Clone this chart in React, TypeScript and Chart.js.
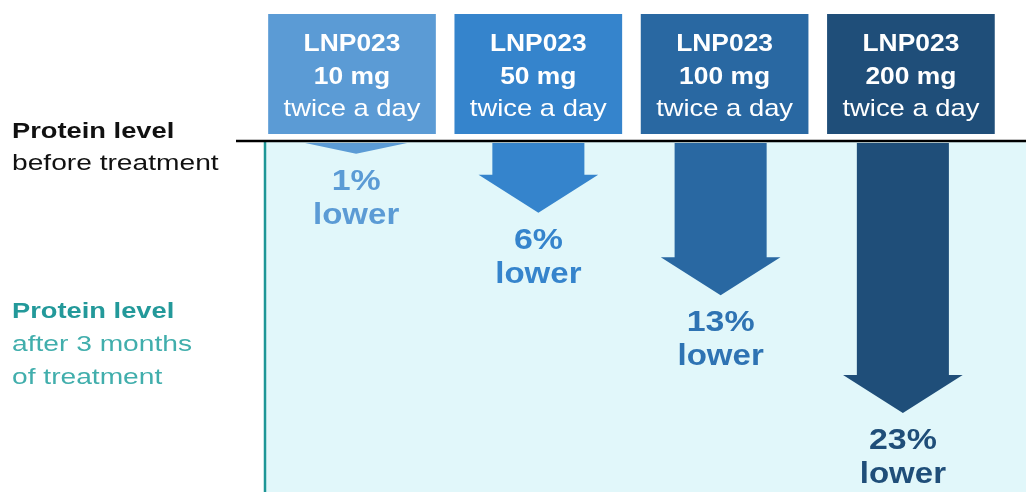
import React, { useEffect, useRef } from "react";
import { Chart, registerables } from "chart.js";

Chart.register(...registerables);

// ---- data ----
const drugName = "LNP023";
const doses = ["10 mg", "50 mg", "100 mg", "200 mg"];
const frequency = "twice a day";
const reductionPct = [1, 6, 13, 23];
const reductionWord = "lower";
const beforeLabel = ["Protein level", "before treatment"];
const afterLabel = ["Protein level", "after 3 months", "of treatment"];

// ---- styles ----
const boxColors = ["#5b9bd5", "#3584cc", "#2968a2", "#1f4e79"];
const pctTextColors = ["#5b9bd5", "#3584cc", "#2e73b3", "#1f4e79"];
const FONT = '"Liberation Sans", Arial, sans-serif';

function drawText(
  ctx: CanvasRenderingContext2D,
  text: string,
  x: number,
  y: number,
  font: string,
  color: string,
  align: CanvasTextAlign,
  sx: number
) {
  ctx.save();
  ctx.translate(x, y);
  ctx.scale(sx, 1);
  ctx.font = font;
  ctx.fillStyle = color;
  ctx.textAlign = align;
  ctx.textBaseline = "alphabetic";
  ctx.fillText(text, 0, 0);
  ctx.restore();
}

const infographicPlugin = {
  id: "infographic",
  beforeDatasetsDraw(chart: any) {
    const { ctx, chartArea, width } = chart;
    const xh = chart.scales.xh;
    ctx.save();
    // treatment region background
    ctx.fillStyle = "#e1f7fa";
    ctx.fillRect(chartArea.left, chartArea.top, width - chartArea.left, chartArea.bottom - chartArea.top);
    // teal left border
    ctx.strokeStyle = "#1e9696";
    ctx.lineWidth = 2.5;
    ctx.beginPath();
    ctx.moveTo(chartArea.left, chartArea.top);
    ctx.lineTo(chartArea.left, chartArea.bottom);
    ctx.stroke();

    // header boxes
    const boxW = Math.abs(xh.getPixelForValue(0.9) - xh.getPixelForValue(0));
    doses.forEach((d, i) => {
      const cx = xh.getPixelForValue(i);
      ctx.fillStyle = boxColors[i];
      ctx.fillRect(cx - boxW / 2, 14, boxW, 120);
      drawText(ctx, drugName, cx, 51, `bold 24px ${FONT}`, "#ffffff", "center", 1.1);
      drawText(ctx, d, cx, 84, `bold 24px ${FONT}`, "#ffffff", "center", 1.1);
      drawText(ctx, frequency, cx, 116, `24px ${FONT}`, "#ffffff", "center", 1.14);
    });

    // left labels
    drawText(ctx, beforeLabel[0], 12, 138, `bold 22px ${FONT}`, "#111111", "left", 1.24);
    drawText(ctx, beforeLabel[1], 12, 170, `22px ${FONT}`, "#111111", "left", 1.28);
    drawText(ctx, afterLabel[0], 12, 318, `bold 22px ${FONT}`, "#23999a", "left", 1.24);
    drawText(ctx, afterLabel[1], 12, 351, `22px ${FONT}`, "#41aeac", "left", 1.28);
    drawText(ctx, afterLabel[2], 12, 384, `22px ${FONT}`, "#41aeac", "left", 1.28);
    ctx.restore();
  },
  afterDatasetsDraw(chart: any) {
    const { ctx, chartArea, width } = chart;
    const meta = chart.getDatasetMeta(0);
    ctx.save();
    meta.data.forEach((el: any, i: number) => {
      const { x, y, base, width: w } = el.getProps(["x", "y", "base", "width"], true);
      const top = base + 1;
      const tip = y;
      const len = tip - top;
      const HEAD = 38;
      const hs = w / 2;
      ctx.fillStyle = boxColors[i];
      ctx.beginPath();
      if (len >= HEAD) {
        const hh = hs * 1.3;
        const hb = tip - HEAD;
        ctx.moveTo(x - hs, top);
        ctx.lineTo(x + hs, top);
        ctx.lineTo(x + hs, hb);
        ctx.lineTo(x + hh, hb);
        ctx.lineTo(x, tip);
        ctx.lineTo(x - hh, hb);
        ctx.lineTo(x - hs, hb);
      } else {
        const hh = 51;
        ctx.moveTo(x - hh, top);
        ctx.lineTo(x + hh, top);
        ctx.lineTo(x, tip);
      }
      ctx.closePath();
      ctx.fill();

      drawText(ctx, `${reductionPct[i]}%`, x, tip + 36, `bold 30px ${FONT}`, pctTextColors[i], "center", 1.13);
      drawText(ctx, reductionWord, x, tip + 70, `bold 30px ${FONT}`, pctTextColors[i], "center", 1.1);
    });

    // baseline ("before treatment" level)
    ctx.strokeStyle = "#000000";
    ctx.lineWidth = 2.5;
    ctx.beginPath();
    ctx.moveTo(236, chartArea.top - 1);
    ctx.lineTo(width, chartArea.top - 1);
    ctx.stroke();
    ctx.restore();
  },
};

export default function App() {
  const canvasRef = useRef<HTMLCanvasElement | null>(null);

  useEffect(() => {
    if (!canvasRef.current) return;
    const chart = new Chart(canvasRef.current, {
      type: "bar",
      data: {
        labels: doses,
        datasets: [
          {
            data: reductionPct,
            backgroundColor: "rgba(0,0,0,0)",
            borderWidth: 0,
            categoryPercentage: 1,
            barPercentage: 0.505,
          },
        ],
      },
      options: {
        animation: false,
        responsive: true,
        maintainAspectRatio: false,
        layout: { padding: { left: 265, right: 32, top: 142, bottom: 0 } },
        plugins: { legend: { display: false }, tooltip: { enabled: false } },
        events: [],
        scales: {
          x: { type: "category", display: false, offset: true, grid: { display: false } },
          xh: {
            type: "linear",
            axis: "x",
            position: "top",
            display: false,
            offset: false,
            bounds: "data",
            min: -0.467,
            max: 3.446,
            grid: { display: false, offset: false },
          },
          y: { type: "linear", display: false, reverse: true, min: 0, max: 29.7, grid: { display: false } },
        },
      },
      plugins: [infographicPlugin],
    } as any);
    return () => chart.destroy();
  }, []);

  return (
    <div style={{ position: "fixed", left: 0, top: 0, width: 1026, height: 492, background: "#ffffff" }}>
      <canvas ref={canvasRef} />
    </div>
  );
}
